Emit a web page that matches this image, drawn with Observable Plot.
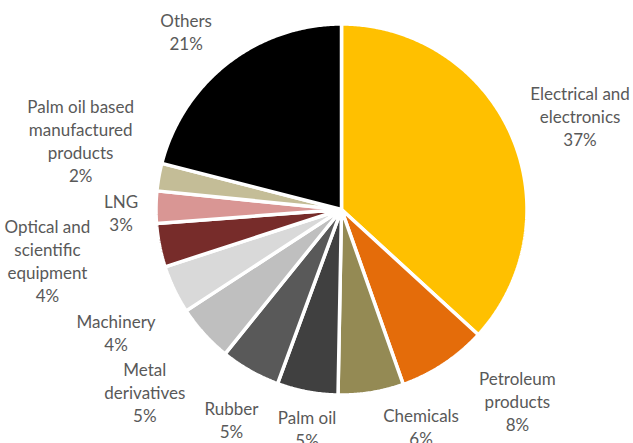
<!DOCTYPE html>
<html>
<head>
<meta charset="utf-8">
<script src="https://cdn.jsdelivr.net/npm/d3@7"></script>
<script src="https://cdn.jsdelivr.net/npm/@observablehq/plot@0.6"></script>
<style>
  html, body { margin: 0; padding: 0; background: #ffffff; }
  #chart svg { display: block; overflow: visible; }
</style>
</head>
<body>
<div id="chart"></div>
<script>
// ---- data ----
const categories = [
  "Electrical and electronics",
  "Petroleum products",
  "Chemicals",
  "Palm oil",
  "Rubber",
  "Metal derivatives",
  "Machinery",
  "Optical and scientific equipment",
  "LNG",
  "Palm oil based manufactured products",
  "Others"
];
const labelText = [
  "Electrical and\nelectronics",
  "Petroleum\nproducts",
  "Chemicals",
  "Palm oil",
  "Rubber",
  "Metal\nderivatives",
  "Machinery",
  "Optical and\nscientific\nequipment",
  "LNG",
  "Palm oil based\nmanufactured\nproducts",
  "Others"
];
const shares = [36.8, 7.8, 5.7, 5.3, 5.2, 5.0, 4.2, 3.8, 2.8, 2.4, 21.0];
const sliceColors = [
  "#FFC000", "#E46C0A", "#948A54", "#404040", "#595959",
  "#BFBFBF", "#D9D9D9", "#772C2A", "#D99694", "#C4BD97", "#000000"
];
// label nudges in pixels (relative to the automatic outside position)
const labelNudge = [
  [23, 1], [46, -5], [42, -16], [9, -13], [6, 5],
  [-22, 24], [-13, 21], [-63, 5], [15, 6], [-29, -28], [-11, 8]
];

// ---- layout ----
const W = 633, H = 443;
const CX = 341, CY = 209, R = 185.5;
const LABEL_R = 235.5 / R;

const arcs = d3.pie().sort(null).value(d => d)(shares);

const slicePts = [];
arcs.forEach((a, i) => {
  const cat = categories[i];
  const span = a.endAngle - a.startAngle;
  const n = Math.max(2, Math.ceil(span / (Math.PI / 360)));
  slicePts.push({ cat, x: 0, y: 0 });
  for (let k = 0; k <= n; k++) {
    const t = a.startAngle + span * k / n;
    slicePts.push({ cat, x: Math.sin(t), y: Math.cos(t) });
  }
});

const labels = arcs.map((a, i) => {
  const mid = (a.startAngle + a.endAngle) / 2;
  return {
    x: Math.sin(mid) * LABEL_R + labelNudge[i][0] / R,
    y: Math.cos(mid) * LABEL_R - labelNudge[i][1] / R,
    text: labelText[i] + "\n" + Math.round(shares[i]) + "%"
  };
});

const chart = Plot.plot({
  width: W,
  height: H,
  marginLeft: CX - R,
  marginRight: W - (CX + R),
  marginTop: CY - R,
  marginBottom: H - (CY + R),
  x: { domain: [-1, 1], axis: null },
  y: { domain: [-1, 1], axis: null },
  color: { domain: categories, range: sliceColors },
  style: { fontFamily: "Lato, 'Open Sans', sans-serif", background: "#ffffff" },
  marks: [
    Plot.line(slicePts, {
      x: "x", y: "y", z: "cat", fill: "cat",
      stroke: "#ffffff", strokeWidth: 3.5, strokeLinejoin: "miter",
      curve: "linear-closed"
    }),
    Plot.text(labels, {
      x: "x", y: "y", text: "text",
      fill: "#595959", fontSize: 17, lineHeight: 1.35,
      textAnchor: "middle", lineAnchor: "middle"
    })
  ]
});
document.getElementById("chart").appendChild(chart);
</script>
</body>
</html>
